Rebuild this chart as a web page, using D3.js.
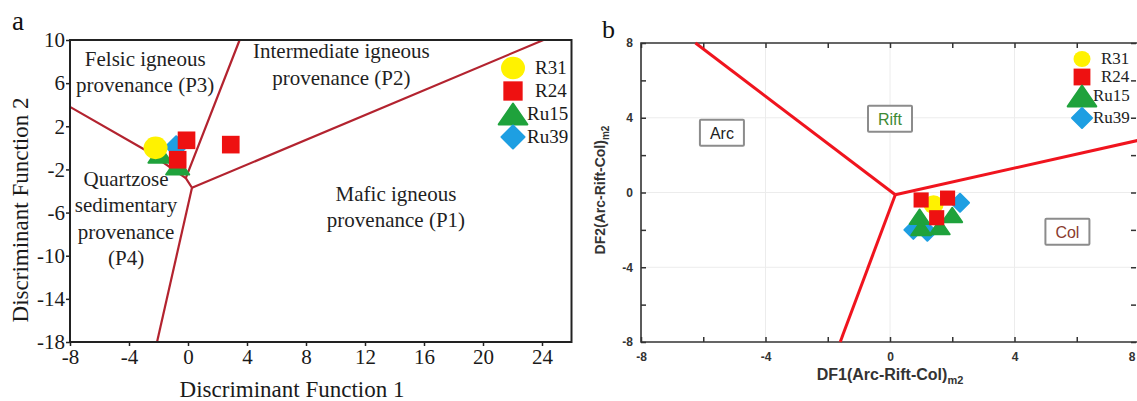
<!DOCTYPE html>
<html>
<head>
<meta charset="utf-8">
<script src="https://cdn.jsdelivr.net/npm/d3@7"></script>
<style>
  html,body{margin:0;padding:0;background:#fff;}
  svg{display:block;}
</style>
</head>
<body>
<svg id="chart" width="1137" height="401"></svg>
<script>
// ---------------- DATA ----------------
// Panel a: discriminant-function provenance diagram
const aXTicks = [-8, -4, 0, 4, 8, 12, 16, 20, 24];
const aYTicks = [10, 6, 2, -2, -6, -10, -14, -18];
const aR31 = [{x: -2.2, y: 0.0}];
const aR24 = [{x: -0.1, y: 0.7}, {x: -0.7, y: -1.1}, {x: 2.9, y: 0.3}];
const aRu15 = [{x: -0.7, y: -1.7}, {x: -1.9, y: -0.6}];
const aRu39 = [{x: -0.8, y: 0.1}];
// boundary lines (data units)
const aLineP3P4 = [[-8, 3.8], [-2.9, -0.2], [-0.15, -2.8]];
const aLineP2P3 = [[3.5, 10], [-0.15, -2.8], [0.27, -3.7]];
const aLineP1P2 = [[0.27, -3.7], [24.1, 10]];
const aLineP1P4 = [[0.27, -3.7], [-2.1, -18]];
const aFieldLabels = [
  {lines: ["Felsic igneous", "provenance (P3)"], x: -2.9, y: 7.6},
  {lines: ["Intermediate igneous", "provenance (P2)"], x: 10.4, y: 8.3},
  {lines: ["Mafic igneous", "provenance (P1)"], x: 14.1, y: -4.9},
  {lines: ["Quartzose", "sedimentary", "provenance", "(P4)"], x: -4.2, y: -3.5}
];

// Panel b: DF1/DF2 (Arc-Rift-Col) diagram
const bMajorTicks = [-8, -4, 0, 4, 8];
const bMinorTicks = [-6, -2, 2, 6];
const bR31 = [{x: 1.4, y: -0.65}];
const bR24 = [{x: 1.0, y: -0.4}, {x: 1.85, y: -0.3}, {x: 1.5, y: -1.35}];
const bRu15 = [{x: 0.95, y: -1.3}, {x: 1.6, y: -1.85}, {x: 2.0, y: -1.2}, {x: 1.0, y: -1.9}];
const bRu39 = [{x: 0.75, y: -2.0}, {x: 1.2, y: -2.1}, {x: 2.25, y: -0.55}];
const bLineArc = [[-6.25, 8], [0.17, -0.12]];
const bLineCol = [[0.17, -0.12], [8, 2.8]];
const bLineRift = [[0.17, -0.12], [-1.6, -8]];
const bFieldLabels = [
  {text: "Arc", x: -5.4, y: 3.2, color: "#222"},
  {text: "Rift", x: 0.0, y: 3.95, color: "#3d8a33"},
  {text: "Col", x: 5.7, y: -2.1, color: "#8a3b2e"}
];

const seriesNames = ["R31", "R24", "Ru15", "Ru39"];
const seriesColors = {R31: "#fff200", R24: "#ee1111", Ru15: "#1fa23c", Ru39: "#1e9fe2"};

// ---------------- DRAW ----------------
const svg = d3.select("#chart");
const serif = "'Liberation Serif','DejaVu Serif',serif";
const sans = "'Liberation Sans',Arial,sans-serif";
const fmt = d => String(d);

function marker(g, name, cx, cy, s) {
  const c = seriesColors[name];
  if (name === "R31") {
    g.append("ellipse").attr("cx", cx).attr("cy", cy).attr("rx", s * 0.5).attr("ry", s * 0.47).attr("fill", c);
  } else if (name === "R24") {
    const h = s * 0.42;
    g.append("rect").attr("x", cx - h).attr("y", cy - h).attr("width", 2 * h).attr("height", 2 * h).attr("fill", c);
  } else if (name === "Ru15") {
    const w = s * 0.55, hh = s * 0.4;
    g.append("path").attr("d", `M${cx},${cy - hh}L${cx + w},${cy + hh}L${cx - w},${cy + hh}Z`)
      .attr("fill", c).attr("stroke", c).attr("stroke-linejoin", "round").attr("stroke-width", 2);
  } else {
    const d = s * 0.5;
    g.append("path").attr("d", `M${cx},${cy - d}L${cx + d},${cy}L${cx},${cy + d}L${cx - d},${cy}Z`)
      .attr("fill", c).attr("stroke", c).attr("stroke-linejoin", "round").attr("stroke-width", 2);
  }
}

// ===== Panel a =====
const xA = d3.scaleLinear().domain([-8, 26]).range([70, 571.5]);
const yA = d3.scaleLinear().domain([-18, 10]).range([342, 40]);
const gA = svg.append("g");

gA.append("g").attr("transform", `translate(0,${yA(-18)})`)
  .call(d3.axisBottom(xA).tickValues(aXTicks).tickSize(4).tickPadding(3).tickFormat(fmt))
  .call(g => g.select(".domain").remove())
  .call(g => g.selectAll("line").attr("stroke", "#222").attr("stroke-width", 1.5))
  .call(g => g.selectAll("text").attr("font-family", serif).attr("font-size", 21).attr("fill", "#1a1a1a"));
gA.append("g").attr("transform", `translate(${xA(-8)},0)`)
  .call(d3.axisLeft(yA).tickValues(aYTicks).tickSize(4).tickPadding(1).tickFormat(fmt))
  .call(g => g.select(".domain").remove())
  .call(g => g.selectAll("line").attr("stroke", "#222").attr("stroke-width", 1.5))
  .call(g => g.selectAll("text").attr("font-family", serif).attr("font-size", 21).attr("fill", "#1a1a1a"));

const lineA = d3.line().x(d => xA(d[0])).y(d => yA(d[1]));
[aLineP3P4, aLineP2P3, aLineP1P2, aLineP1P4].forEach(l => {
  gA.append("path").attr("d", lineA(l)).attr("fill", "none").attr("stroke", "#b3232f").attr("stroke-width", 2.2);
});

aFieldLabels.forEach(f => {
  const t = gA.append("text").attr("font-family", serif).attr("font-size", 21).attr("fill", "#1f1f1f")
    .attr("text-anchor", "middle");
  f.lines.forEach((ln, i) => {
    t.append("tspan").attr("x", xA(f.x)).attr("y", yA(f.y) + i * 26.5).text(ln);
  });
});

const aSeries = {R31: aR31, R24: aR24, Ru15: aRu15, Ru39: aRu39};
["Ru15", "Ru39", "R31", "R24"].forEach(n => {
  aSeries[n].forEach(p => marker(gA, n, xA(p.x), yA(p.y), n === "R31" ? 24 : 21));
});

gA.append("rect").attr("x", xA(-8)).attr("y", yA(10)).attr("width", xA(26) - xA(-8)).attr("height", yA(-18) - yA(10))
  .attr("fill", "none").attr("stroke", "#222").attr("stroke-width", 2);

seriesNames.forEach((n, i) => {
  const cy = 68 + i * 23;
  marker(gA, n, 513, cy, n === "R31" ? 24 : (n === "Ru15" ? 26 : 23));
  gA.append("text").attr("x", n.length === 3 ? 535 : 527).attr("y", cy + 6).attr("font-family", serif)
    .attr("font-size", 19).attr("fill", "#1a1a1a").text(n);
});

gA.append("text").attr("x", 292).attr("y", 397).attr("text-anchor", "middle").attr("font-family", serif)
  .attr("font-size", 23).attr("fill", "#1a1a1a").text("Discriminant Function 1");
gA.append("text").attr("transform", "translate(28,210) rotate(-90)").attr("text-anchor", "middle")
  .attr("font-family", serif).attr("font-size", 23).attr("fill", "#1a1a1a").text("Discriminant Function 2");
gA.append("text").attr("x", 12).attr("y", 30).attr("font-family", serif).attr("font-size", 27)
  .attr("fill", "#111").text("a");

// ===== Panel b =====
const xB = d3.scaleLinear().domain([-8, 8]).range([641, 1139]);
const yB = d3.scaleLinear().domain([-8, 8]).range([342, 43]);
const gB = svg.append("g");
const allB = bMajorTicks.concat(bMinorTicks);

bMajorTicks.slice(1, -1).forEach(v => {
  gB.append("line").attr("x1", xB(v)).attr("x2", xB(v)).attr("y1", yB(-8)).attr("y2", yB(8)).attr("stroke", "#ececec").attr("stroke-width", 1);
  gB.append("line").attr("x1", xB(-8)).attr("x2", xB(8)).attr("y1", yB(v)).attr("y2", yB(v)).attr("stroke", "#ececec").attr("stroke-width", 1);
});

function styleB(g) {
  g.select(".domain").remove();
  g.selectAll("line").attr("stroke", "#333").attr("stroke-width", 1.5);
  g.selectAll("text").attr("font-family", sans).attr("font-weight", "bold").attr("font-size", 12).attr("fill", "#333");
}
gB.append("g").attr("transform", `translate(0,${yB(-8)})`)
  .call(d3.axisBottom(xB).tickValues(allB).tickSize(-5).tickPadding(10).tickFormat(d => bMajorTicks.includes(d) ? fmt(d) : ""))
  .call(styleB)
  .call(g => g.selectAll(".tick text").filter(d => d === 8).attr("text-anchor", "end").attr("dx", -4));
gB.append("g").attr("transform", `translate(0,${yB(8)})`)
  .call(d3.axisTop(xB).tickValues(allB).tickSize(-5).tickFormat(""))
  .call(styleB);
gB.append("g").attr("transform", `translate(${xB(-8)},0)`)
  .call(d3.axisLeft(yB).tickValues(allB).tickSize(-5).tickPadding(8).tickFormat(d => bMajorTicks.includes(d) ? fmt(d) : ""))
  .call(styleB);
gB.append("g").attr("transform", `translate(${xB(8) - 3},0)`)
  .call(d3.axisRight(yB).tickValues(allB).tickSize(-5).tickFormat(""))
  .call(styleB);

gB.append("path").attr("d", `M${xB(8)},${yB(8)}H${xB(-8)}V${yB(-8)}H${xB(8)}`).attr("fill", "none")
  .attr("stroke", "#333").attr("stroke-width", 1.6);

const lineB = d3.line().x(d => xB(d[0])).y(d => yB(d[1]));
[bLineArc, bLineCol, bLineRift].forEach(l => {
  gB.append("path").attr("d", lineB(l)).attr("fill", "none").attr("stroke", "#f0141e").attr("stroke-width", 3);
});

bFieldLabels.forEach(f => {
  const cx = xB(f.x), cy = yB(f.y);
  gB.append("rect").attr("x", cx - 22).attr("y", cy - 13).attr("width", 44).attr("height", 26)
    .attr("fill", "#fff").attr("stroke", "#8c8c8c").attr("stroke-width", 2).attr("rx", 1);
  gB.append("text").attr("x", cx).attr("y", cy + 6).attr("text-anchor", "middle").attr("font-family", sans)
    .attr("font-size", 16).attr("fill", f.color).text(f.text);
});

const bSeries = {R31: bR31, R24: bR24, Ru15: bRu15, Ru39: bRu39};
["Ru39", "Ru15", "R31", "R24"].forEach(n => {
  bSeries[n].forEach(p => marker(gB, n, xB(p.x), yB(p.y), n === "R31" ? 20 : 18));
});

const legB = [{y: 59, tx: 1101}, {y: 77, tx: 1101}, {y: 96, tx: 1093}, {y: 118, tx: 1093}];
seriesNames.forEach((n, i) => {
  marker(gB, n, 1082, legB[i].y, n === "R31" ? 17 : (n === "Ru15" ? 26 : 20));
  gB.append("text").attr("x", legB[i].tx).attr("y", legB[i].y + 5).attr("font-family", serif)
    .attr("font-size", 17).attr("fill", "#222").text(n);
});

const xt = gB.append("text").attr("x", 890).attr("y", 380).attr("text-anchor", "middle").attr("font-family", sans)
  .attr("font-weight", "bold").attr("font-size", 16).attr("fill", "#333");
xt.append("tspan").text("DF1(Arc-Rift-Col)");
xt.append("tspan").attr("font-size", 11).attr("dy", 4).text("m2");
const yt = gB.append("text").attr("transform", "translate(605,190) rotate(-90)").attr("text-anchor", "middle")
  .attr("font-family", sans).attr("font-weight", "bold").attr("font-size", 14).attr("fill", "#333");
yt.append("tspan").text("DF2(Arc-Rift-Col)");
yt.append("tspan").attr("font-size", 10).attr("dy", 4).text("m2");
gB.append("text").attr("x", 602).attr("y", 38).attr("font-family", serif).attr("font-size", 26)
  .attr("fill", "#111").text("b");
</script>
</body>
</html>
